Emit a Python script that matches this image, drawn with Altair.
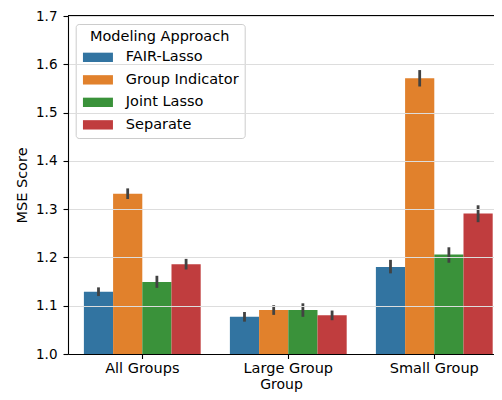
import altair as alt
import pandas as pd

groups = ["All Groups", "Large Group", "Small Group"]
approaches = ["FAIR-Lasso", "Group Indicator", "Joint Lasso", "Separate"]
colors = ["#3274a1", "#e1812c", "#3a923a", "#c03d3e"]

# values per group (rows) and approach (columns)
means = [
    [1.129, 1.332, 1.149, 1.186],
    [1.077, 1.091, 1.091, 1.080],
    [1.180, 1.571, 1.206, 1.291],
]
lows = [
    [1.120, 1.321, 1.137, 1.175],
    [1.067, 1.081, 1.077, 1.070],
    [1.167, 1.554, 1.189, 1.273],
]
highs = [
    [1.138, 1.343, 1.162, 1.197],
    [1.087, 1.101, 1.105, 1.090],
    [1.195, 1.588, 1.221, 1.308],
]
y_ticks = [1.0, 1.1, 1.2, 1.3, 1.4, 1.5, 1.6, 1.7]

rows = []
for gi, g in enumerate(groups):
    for ai, a in enumerate(approaches):
        rows.append({"Group": g, "Approach": a, "MSE": means[gi][ai],
                     "lo": lows[gi][ai], "hi": highs[gi][ai]})
df = pd.DataFrame(rows)

FONT = "DejaVu Sans"
TXT = "#000000"

x_enc = alt.X("Group:N", sort=groups, title="Group",
              scale=alt.Scale(paddingInner=0.2, paddingOuter=0.0589, align=0.924),
              axis=alt.Axis(labelAngle=0, labelFontSize=14.5, labelColor=TXT, labelFont=FONT,
                            titleFontSize=14, titleColor=TXT, titleFont=FONT, titleFontWeight="normal",
                            tickSize=4.5, tickColor="#000", tickWidth=1.1, labelPadding=3,
                            titlePadding=2, domainColor="#000", domainWidth=1.1, grid=False,
                            zindex=1))
xo_enc = alt.XOffset("Approach:N", sort=approaches,
                     scale=alt.Scale(paddingInner=0, paddingOuter=0))
y_scale = alt.Scale(domain=[1.0, 1.7], nice=False, zero=False)

bars = alt.Chart(df).mark_bar(clip=True).encode(
    x=x_enc,
    xOffset=xo_enc,
    y=alt.Y("MSE:Q", scale=y_scale, title="MSE Score",
            axis=alt.Axis(values=y_ticks, format=".1f", labelFontSize=13.5, labelColor=TXT,
                          labelFont=FONT, titleFontSize=14.5, titleColor=TXT, titleFont=FONT,
                          titleFontWeight="normal", tickSize=5, tickColor="#000", tickWidth=1.1,
                          labelPadding=6, titlePadding=6.5, domainColor="#000", domainWidth=1.1,
                          grid=True, gridColor="#dddddd", gridWidth=1.1, zindex=1)),
    color=alt.Color("Approach:N", sort=approaches,
                    scale=alt.Scale(domain=approaches, range=colors),
                    legend=alt.Legend(title="Modeling Approach", orient="none",
                                      legendX=7.7, legendY=8,
                                      symbolType="M-1,-0.78H4V0.78H-1Z", symbolSize=144,
                                      symbolStrokeWidth=0, symbolOpacity=1,
                                      labelOffset=29.6, labelFontSize=14.5, labelColor=TXT,
                                      labelFont=FONT, titleFontSize=14.5, titleColor=TXT,
                                      titleFont=FONT, titleFontWeight="normal",
                                      titleAnchor="middle", titlePadding=5.6, rowPadding=7.5,
                                      padding=6, fillColor="rgba(255,255,255,0.85)",
                                      strokeColor="#cccccc", cornerRadius=3)),
)

errs = alt.Chart(df).mark_rule(color="#424242", strokeWidth=2.8).encode(
    x=x_enc,
    xOffset=xo_enc,
    y=alt.Y("lo:Q", scale=y_scale),
    y2="hi:Q",
)

top_spine = alt.Chart(df).mark_rule(color="#000", strokeWidth=1.1).encode(
    y=alt.datum(1.7, scale=y_scale)
)

chart = alt.layer(bars, errs, top_spine).properties(
    width=426, height=338,
    autosize=alt.AutoSizeParams(type="none"),
    padding={"left": 60, "top": 8, "right": 0, "bottom": 38},
).configure_view(stroke=None).configure(font=FONT)

chart.save("out.html", embed_options={"renderer": "svg", "actions": False})
